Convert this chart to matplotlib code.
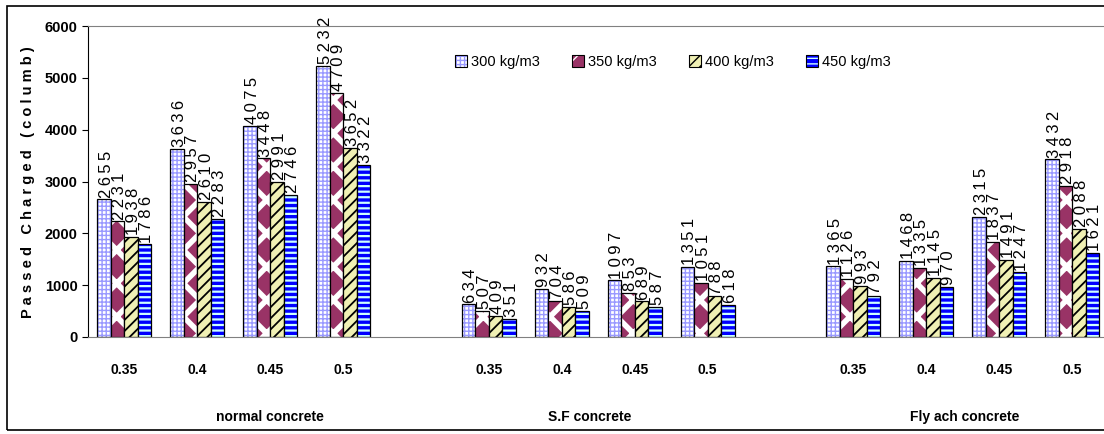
import matplotlib
matplotlib.use('Agg')
import matplotlib.pyplot as plt
import numpy as np
from matplotlib.patches import Rectangle

plt.rcParams['font.family'] = ['Liberation Sans', 'DejaVu Sans']

# data
groups = ['normal concrete', 'S.F concrete', 'Fly ach concrete']
wc = ['0.35', '0.4', '0.45', '0.5']
series = ['300 kg/m3', '350 kg/m3', '400 kg/m3', '450 kg/m3']
normal = [[2655, 2231, 1938, 1786],
          [3636, 2957, 2610, 2283],
          [4075, 3448, 2991, 2746],
          [5232, 4709, 3652, 3322]]
sf = [[634, 507, 409, 351],
      [932, 704, 586, 509],
      [1097, 853, 689, 587],
      [1351, 1051, 788, 618]]
flyash = [[1365, 1126, 993, 792],
          [1468, 1335, 1145, 970],
          [2315, 1837, 1491, 1247],
          [3432, 2918, 2088, 1621]]

# bar styles: face, hatch, hatch colour, hatch width
styles = [('white', '++++', '#9999ff', 1.0),
          ('#993366', 'x', 'white', 4.0),
          ('#f0f0b4', '///', 'black', 1.3),
          ('#0000ff', '---', '#ccffff', 1.6)]

W, H = 1104, 434
fig = plt.figure(figsize=(W / 100, H / 100), dpi=100)
ax = fig.add_axes([88 / W, (H - 337) / H, 14 * 72.9 / W, (337 - 26) / H])

# slot positions: 4 per group, one empty slot between groups
slots = []
for g in range(3):
    slots += [g * 5 + i for i in range(4)]
slots = np.array(slots)
vals = np.array(normal + sf + flyash)

bw = 0.185
for s in range(4):
    x = slots + (s - 1.5) * bw
    face, hatch, hc, hlw = styles[s]
    with plt.rc_context({'hatch.linewidth': hlw}):
        bars = ax.bar(x, vals[:, s], bw, color=face, edgecolor=hc, hatch=hatch, linewidth=0)
    for b in bars:
        if hasattr(b, 'set_hatch_linewidth'):
            b.set_hatch_linewidth(hlw)
    ax.bar(x, vals[:, s], bw, fill=False, edgecolor='black', linewidth=0.9)
    for xi, v in zip(x, vals[:, s]):
        ax.text(xi + 0.03, v + 30, '\u2009'.join(str(v)), rotation=90, ha='center',
                va='bottom', fontsize=12)

ax.set_xlim(-0.5, 13.5)
ax.set_ylim(0, 6000)
ax.set_yticks(range(0, 6001, 1000))
ax.tick_params(axis='y', length=4, width=0.8, labelsize=10.5)
for lab in ax.get_yticklabels():
    lab.set_fontweight('bold')
ax.set_xticks([])
ax.spines['right'].set_visible(False)
ax.spines['top'].set_color('#808080')
ax.spines['bottom'].set_color('#808080')
ax.spines['left'].set_color('black')

for xi, i in zip(slots, range(12)):
    ax.text(xi, -0.105, wc[i % 4], transform=ax.get_xaxis_transform(),
            ha='center', va='center', fontsize=10, fontweight='bold')
group_x = [270, 590, 965]
for gx, g in zip(group_x, groups):
    fig.text(gx / W, 1 - 417 / H, g, ha='center', va='center',
             fontsize=10, fontweight='bold')

fig.text(28 / W, 1 - 182 / H, ' '.join('Passed Charged (columb)'), rotation=90,
         ha='center', va='center', fontsize=10.5, fontweight='bold')

# legend handles with the same fill look
handles = []
for s in range(4):
    face, hatch, hc, hlw = styles[s]
    h = Rectangle((0, 0), 1, 1, facecolor=face, edgecolor=hc, hatch=hatch, linewidth=0)
    handles.append((h, Rectangle((0, 0), 1, 1, fill=False, edgecolor='black', linewidth=0.8)))
fig.legend(handles, series, loc='center left', bbox_to_anchor=(448 / W, 1 - 62 / H),
           ncol=4, frameon=False, fontsize=10.5, handlelength=0.8, handleheight=0.8,
           handletextpad=0.3, columnspacing=2.2, borderpad=0)

# outer chart border
fig.patches.append(Rectangle((7 / W, 4 / H), 1.2, 1 - 10 / H, transform=fig.transFigure,
                             fill=False, edgecolor='black', linewidth=1.2))

fig.savefig('out.png', dpi=100)
